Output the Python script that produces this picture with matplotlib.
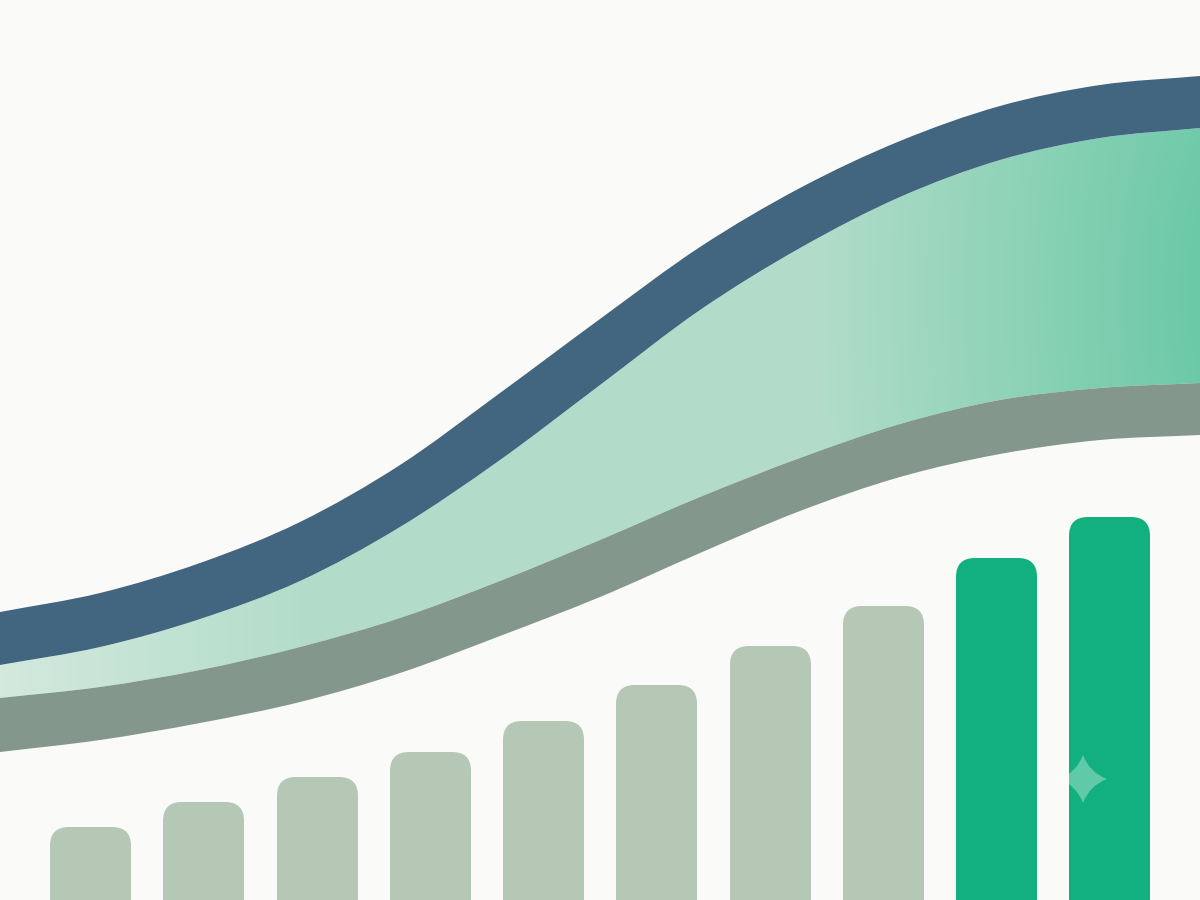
import numpy as np
import matplotlib
matplotlib.use('Agg')
import matplotlib.pyplot as plt
from matplotlib.colors import LinearSegmentedColormap
from matplotlib.patches import FancyBboxPatch, PathPatch
from matplotlib.path import Path

# --- data (y axis runs downward, 0 at the top) ---
curve_x = [0, 100, 200, 300, 400, 500, 600, 700, 800, 900, 1000, 1100, 1200]
blue_top = [612, 593, 563, 522, 465, 393, 319, 247, 188, 141, 106, 85, 76]
blue_bottom = [665, 647, 619, 581, 527, 460, 385, 310, 248, 197, 160, 138, 128]
grey_top = [698, 687, 670, 647, 618, 581, 540, 497, 458, 424, 400, 388, 383]
grey_bottom = [752, 740, 723, 702, 673, 636, 597, 553, 511, 477, 454, 440, 435]

bar_left = [50, 163, 277, 390, 503, 616, 730, 843, 956, 1069]
bar_top = [827, 802, 777, 752, 721, 685, 646, 606, 558, 517]
bar_width = 81
n_highlight = 2

BG = '#fafaf8'
BLUE = '#426580'
GREY = '#83978c'
BAR = '#b5c7b5'
GREEN = '#11b07e'


def smooth_edge(xs, ys):
    # catmull-rom through the read points, as bezier segments
    p = np.column_stack([xs, ys]).astype(float)
    p = np.vstack([2 * p[0] - p[1], p, 2 * p[-1] - p[-2]])
    verts = []
    for i in range(1, len(p) - 2):
        verts.append(p[i] + (p[i + 1] - p[i - 1]) / 6)
        verts.append(p[i + 1] - (p[i + 2] - p[i]) / 6)
        verts.append(p[i + 1])
    return p[1], verts


def band_path(top, bottom):
    start, upper = smooth_edge(curve_x, top)
    start2, lower = smooth_edge(curve_x[::-1], bottom[::-1])
    verts = [start] + upper + [start2] + lower + [start]
    codes = [Path.MOVETO] + [Path.CURVE4] * len(upper) + [Path.LINETO] + [Path.CURVE4] * len(lower) + [Path.CLOSEPOLY]
    return Path(verts, codes)


fig = plt.figure(figsize=(12, 9), dpi=100, facecolor=BG)
ax = fig.add_axes([0, 0, 1, 1])
ax.set_xlim(0, 1200)
ax.set_ylim(900, 0)
ax.axis('off')

# mint band with its gradient
xx, yy = np.meshgrid(np.arange(0, 1200, 2), np.arange(0, 900, 2))
left_part = np.clip(1 - xx / 300, 0, 1)
right_part = np.clip(1 - np.hypot((xx - 1290) / 480, (yy - 290) / 900), 0, 1) / 0.81
mint = np.clip(right_part, 0, 1) * 0.5 + 0.5 - left_part * 0.5
cmap = LinearSegmentedColormap.from_list('mint', ['#d3e9dd', '#b3ddca', '#6bc9a7'])
im = ax.imshow(mint, extent=(0, 1200, 900, 0), cmap=cmap, vmin=0, vmax=1, aspect='auto', zorder=1)
mint_patch = PathPatch(band_path(blue_bottom, grey_top), transform=ax.transData, fc='none', ec='none')
ax.add_patch(mint_patch)
im.set_clip_path(mint_patch)

ax.add_patch(PathPatch(band_path(blue_top, blue_bottom), fc=BLUE, ec='none', zorder=2))
ax.add_patch(PathPatch(band_path(grey_top, grey_bottom), fc=GREY, ec='none', zorder=2))

# bars run off the bottom edge
pad = 19
for i, (left, top) in enumerate(zip(bar_left, bar_top)):
    color = GREEN if i >= len(bar_left) - n_highlight else BAR
    ax.add_patch(FancyBboxPatch((left + pad, top + pad), bar_width - 2 * pad, 1000 - top,
                                boxstyle=f'round,pad={pad},rounding_size={pad}', fc=color, ec='none', zorder=3))

# little four point star on the last bar
cx, cy, r = 1083, 779, 24
k = 0.27 * r
star = [(cx, cy - r), (cx + k, cy - k), (cx + r, cy), (cx + k, cy + k), (cx, cy + r),
        (cx - k, cy + k), (cx - r, cy), (cx - k, cy - k), (cx, cy - r)]
star_codes = [Path.MOVETO] + [Path.CURVE3] * 8
ax.add_patch(PathPatch(Path(star, star_codes), fc='white', ec='none', alpha=0.33, zorder=4))

ax.set_xlim(0, 1200)
ax.set_ylim(900, 0)
fig.savefig('out.png', dpi=100, facecolor=BG)
